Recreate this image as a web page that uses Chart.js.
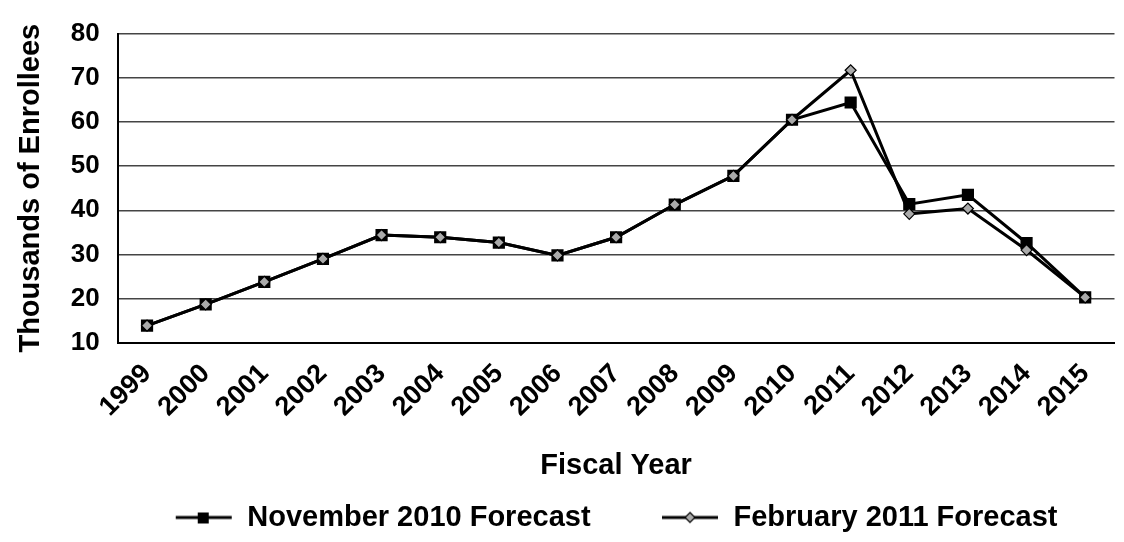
<!DOCTYPE html>
<html>
<head>
<meta charset="utf-8">
<script src="https://cdn.jsdelivr.net/npm/chart.js@4"></script>
<style>
  html, body { margin: 0; padding: 0; background: #fff; }
  #wrap { width: 1124px; height: 542px; }
</style>
</head>
<body>
<div id="wrap"><canvas id="chart" width="1124" height="542"></canvas></div>
<script>
const years = ['1999', '2000', '2001', '2002', '2003', '2004', '2005', '2006', '2007',
               '2008', '2009', '2010', '2011', '2012', '2013', '2014', '2015'];
const nov2010 = [13.9, 18.7, 23.8, 29, 34.4, 33.9, 32.7, 29.8, 33.9, 41.3, 47.8, 60.5, 64.4, 41.4, 43.5, 32.6, 20.3];
const feb2011 = [13.9, 18.7, 23.8, 29, 34.4, 33.9, 32.7, 29.8, 33.9, 41.3, 47.8, 60.5, 71.7, 39.2, 40.4, 31, 20.3];
const yTicks = [10, 20, 30, 40, 50, 60, 70, 80];

const FONT = "'Liberation Sans', Arial, sans-serif";

// legend swatch: line with the marker in the middle
function swatch(kind) {
    const c = document.createElement('canvas');
    c.width = 58; c.height = 16;
    const g = c.getContext('2d');
    g.strokeStyle = '#000';
    g.lineWidth = 3;
    g.beginPath(); g.moveTo(1, 8); g.lineTo(57, 8); g.stroke();
    if (kind === 'square') {
        g.fillStyle = '#000';
        g.fillRect(23, 3, 11, 11);
    } else {
        g.fillStyle = '#aaa';
        g.lineWidth = 1.2;
        g.beginPath();
        g.moveTo(29, 3); g.lineTo(34, 8); g.lineTo(29, 13); g.lineTo(24, 8); g.closePath();
        g.fill(); g.stroke();
    }
    return c;
}

new Chart(document.getElementById('chart'), {
    type: 'line',
    data: {
        labels: years,
        datasets: [{
            label: 'November 2010 Forecast',
            data: nov2010,
            order: 1,
            borderColor: '#000',
            borderWidth: 3,
            pointStyle: 'rect',
            pointRadius: 6.5,
            pointBackgroundColor: '#000',
            pointBorderColor: '#000',
            tension: 0
        }, {
            label: 'February 2011 Forecast',
            data: feb2011,
            order: 0,
            borderColor: '#000',
            borderWidth: 3,
            pointStyle: 'rectRot',
            pointRadius: 5.5,
            pointBackgroundColor: '#aaa',
            pointBorderColor: '#000',
            pointBorderWidth: 1.2,
            tension: 0
        }]
    },
    options: {
        responsive: false,
        animation: false,
        layout: { padding: { left: 14, right: 0, top: 20, bottom: 0 } },
        plugins: {
            tooltip: { enabled: false },
            legend: {
                position: 'bottom',
                fullSize: false,
                labels: {
                    color: '#000',
                    font: { family: FONT, size: 29, weight: 'bold' },
                    usePointStyle: true,
                    pointStyleWidth: 58,
                    padding: 14,
                    generateLabels: (chart) => chart.data.datasets.map((ds, i) => ({
                        // trailing gap between the two entries
                        text: i === 0 ? ds.label + '       ' : ds.label,
                        fontColor: '#000',
                        pointStyle: swatch(i === 0 ? 'square' : 'diamond'),
                        datasetIndex: i,
                        lineWidth: 0,
                        strokeStyle: 'transparent',
                        fillStyle: 'transparent'
                    }))
                }
            }
        },
        scales: {
            x: {
                offset: true,
                grid: { display: false, drawTicks: false },
                border: { color: '#000', width: 2 },
                ticks: {
                    color: '#000',
                    minRotation: 45,
                    maxRotation: 45,
                    padding: 15,
                    font: { family: FONT, size: 27, weight: 'bold' }
                },
                title: {
                    display: true,
                    text: 'Fiscal Year',
                    color: '#000',
                    padding: { top: 10, bottom: 6 },
                    font: { family: FONT, size: 29, weight: 'bold' }
                }
            },
            y: {
                min: yTicks[0],
                max: yTicks[yTicks.length - 1],
                afterBuildTicks: (axis) => { axis.ticks = yTicks.map(v => ({ value: v })); },
                ticks: {
                    color: '#000',
                    padding: 18,
                    font: { family: FONT, size: 26, weight: 'bold' }
                },
                grid: { color: '#444', lineWidth: 1.5, drawTicks: false },
                border: { color: '#000', width: 2 },
                title: {
                    display: true,
                    text: 'Thousands of Enrollees',
                    color: '#000',
                    padding: { top: 0, bottom: 4 },
                    font: { family: FONT, size: 29, weight: 'bold' }
                }
            }
        }
    }
});
</script>
</body>
</html>
